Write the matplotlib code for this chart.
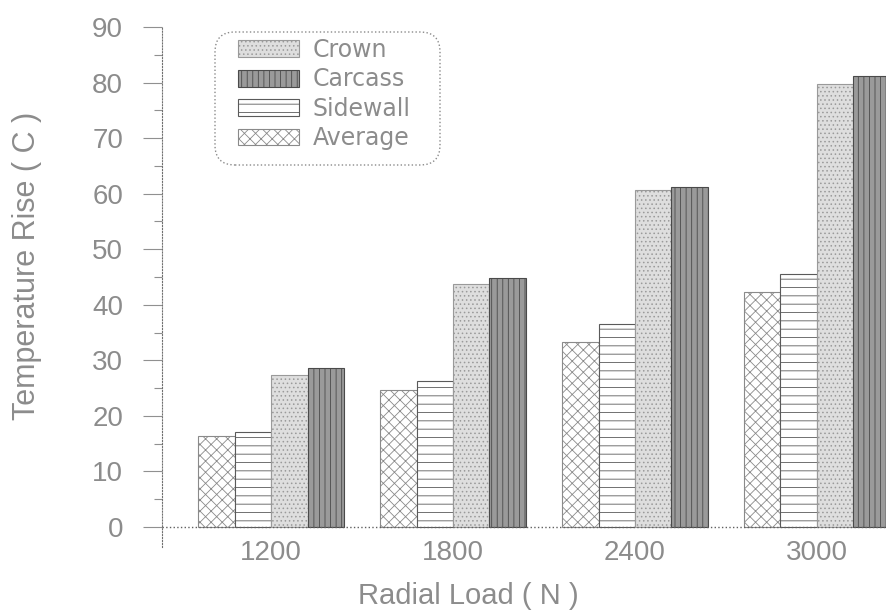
import matplotlib
matplotlib.use('Agg')
import matplotlib.pyplot as plt
import numpy as np
from matplotlib.patches import FancyBboxPatch

loads = ['1200', '1800', '2400', '3000']
legend_order = ['Crown', 'Carcass', 'Sidewall', 'Average']
average = [16.4, 24.7, 33.3, 42.3]
sidewall = [17.1, 26.3, 36.5, 45.5]
crown = [27.4, 43.7, 60.7, 79.7]
carcass = [28.6, 44.8, 61.2, 81.2]
yticks = [0, 10, 20, 30, 40, 50, 60, 70, 80, 90]

plt.rcParams['hatch.linewidth'] = 0.6
TXT = '#8c8c8c'

fig = plt.figure(figsize=(8.86, 6.15), dpi=100)
ax = fig.add_axes([162/886, 1-547/615, (886-162)/886, 520/615])

x = np.arange(len(loads))
w = 0.2
series = [
    ('Average', average, dict(facecolor='white', hatch='xxx', edgecolor='#8a8a8a')),
    ('Sidewall', sidewall, dict(facecolor='white', hatch='--', edgecolor='#5a5a5a')),
    ('Crown', crown, dict(facecolor='#dedede', hatch='....', edgecolor='#9a9a9a')),
    ('Carcass', carcass, dict(facecolor='#9a9a9a', hatch='|||', edgecolor='#4a4a4a')),
]
handles = {}
for i, (name, vals, st) in enumerate(series):
    bc = ax.bar(x + (i - 1.5) * w, vals, width=w, linewidth=0.8, zorder=2, **st)
    handles[name] = bc

ax.set_xlim(-0.6, 3.38)
ax.set_ylim(-3.6, 90)
ax.set_yticks(yticks)
ax.set_yticks(np.arange(5, 90, 10), minor=True)
ax.set_xticks(x)
ax.set_xticklabels(loads)
for s in ['top', 'right', 'bottom']:
    ax.spines[s].set_visible(False)
ax.spines['left'].set_linestyle(':')
ax.spines['left'].set_color('#707070')
ax.axhline(0, ls=':', color='#606060', lw=1, zorder=3)

ax.tick_params(axis='y', which='major', length=14, width=0.8, color='#909090', pad=14,
               labelsize=20, labelcolor=TXT)
ax.tick_params(axis='y', which='minor', length=6, width=0.8, color='#909090')
ax.tick_params(axis='x', length=0, pad=-5, labelsize=20, labelcolor=TXT)
for lab in ax.get_xticklabels() + ax.get_yticklabels():
    lab.set_family('Liberation Sans')

fig.text(27/886, 1-266/615, 'Temperature Rise ( C )', rotation=90, ha='center', va='center',
         fontsize=22, color=TXT, family='Liberation Sans')
fig.text(468/886, 1-596/615, 'Radial Load ( N )', ha='center', va='center',
         fontsize=21, color=TXT, family='Liberation Sans')

leg = fig.legend([handles[n] for n in legend_order], legend_order, loc='upper left',
                 bbox_to_anchor=(238/886, 1-38/615), frameon=False, borderpad=0,
                 borderaxespad=0, handlelength=2.6, handleheight=0.72, handletextpad=0.55,
                 labelspacing=0.23, prop=dict(family='DejaVu Sans', size=17))
for t in leg.get_texts():
    t.set_color(TXT)

frame = FancyBboxPatch((2.15, (615-165)/100), 2.25, 1.33,
                       boxstyle='round,pad=0,rounding_size=0.2',
                       transform=fig.dpi_scale_trans, fill=False,
                       edgecolor='#8a8a8a', linestyle=':', linewidth=1.0)
fig.patches.append(frame)

fig.savefig('out.png', dpi=100)
